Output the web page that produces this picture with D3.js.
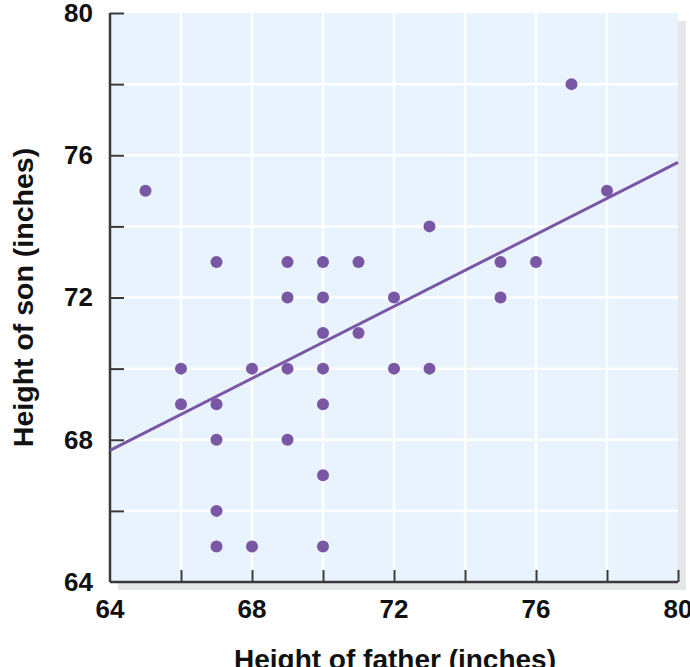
<!DOCTYPE html>
<html>
<head>
<meta charset="utf-8">
<script src="https://cdn.jsdelivr.net/npm/d3@7"></script>
<style>
  body { margin: 0; background: #fff; }
  text { font-family: "Liberation Sans", Arial, sans-serif; font-weight: bold; fill: #111; }
</style>
</head>
<body>
<div class="chart-wrapper"></div>
<script>
// father / son heights (inches)
const fatherHeights = [65, 66, 66, 67, 67, 67, 67, 67, 68, 68, 69, 69, 69, 69, 70, 70, 70, 70, 70, 70, 70, 71, 71, 72, 72, 73, 73, 75, 75, 76, 77, 78]
const sonHeights    = [75, 70, 69, 73, 69, 68, 66, 65, 70, 65, 73, 72, 70, 68, 73, 72, 71, 70, 69, 67, 65, 73, 71, 72, 70, 74, 70, 73, 72, 73, 78, 75]

// fitted line end points
const fitX = [64, 80]
const fitY = [67.7, 75.8]

const tickValues = [64, 66, 68, 70, 72, 74, 76, 78, 80]
const labelValues = [64, 68, 72, 76, 80]

const width = 690, height = 667
const margin = {left: 110, top: 13, right: 12, bottom: 85}
const purple = '#7a57a4'

let svg = d3.select('.chart-wrapper').append('svg')
    .attr('width', width)
    .attr('height', height)

let x = d3.scaleLinear().domain([64, 80]).range([margin.left, width - margin.right])
let y = d3.scaleLinear().domain([64, 80]).range([height - margin.bottom, margin.top])

const x0 = x(64), x1 = x(80), y0 = y(64), y1 = y(80)

// drop shadow
svg.append('rect')
    .attr('x', x0 + 8).attr('y', y1 + 8)
    .attr('width', x1 - x0).attr('height', y0 - y1)
    .attr('fill', '#e4e6e8')

// plot background
svg.append('rect')
    .attr('x', x0).attr('y', y1)
    .attr('width', x1 - x0).attr('height', y0 - y1)
    .attr('fill', '#e9f3fd')

// grid
let grid = svg.append('g').attr('class', 'grid')
grid.selectAll('.vgrid')
    .data(tickValues.filter(d => d > 64 && d < 80))
    .enter().append('line')
    .attr('x1', d => x(d)).attr('x2', d => x(d))
    .attr('y1', y1).attr('y2', y0)
    .attr('stroke', '#fff').attr('stroke-width', 2.5)
grid.selectAll('.hgrid')
    .data(tickValues.filter(d => d > 64 && d < 80))
    .enter().append('line')
    .attr('x1', x0).attr('x2', x1)
    .attr('y1', d => y(d)).attr('y2', d => y(d))
    .attr('stroke', '#fff').attr('stroke-width', 2.5)

// axes (ticks point inward)
let xAxis = d3.axisBottom(x).tickValues(tickValues).tickSize(-12).tickFormat('')
let yAxis = d3.axisLeft(y).tickValues(tickValues).tickSize(-14).tickFormat('')

let gx = svg.append('g').attr('transform', `translate(0,${y0})`).call(xAxis)
let gy = svg.append('g').attr('transform', `translate(${x0},0)`).call(yAxis)
gx.select('.domain').attr('d', `M${x0},0H${x1}`)
gy.select('.domain').attr('d', `M0,${y1}V${y0}`)
svg.selectAll('.domain').attr('stroke', '#3a3a3a').attr('stroke-width', 2.5)
svg.selectAll('.tick line').attr('stroke', '#3a3a3a').attr('stroke-width', 2)
// hide tick at the corner so the axes meet cleanly
gx.selectAll('.tick').filter(d => d === 64).remove()
gy.selectAll('.tick').filter(d => d === 64).remove()

// tick labels
svg.append('g').selectAll('text')
    .data(labelValues)
    .enter().append('text')
    .attr('x', d => x(d))
    .attr('y', y0 + 36)
    .attr('text-anchor', 'middle')
    .style('font-size', '26px')
    .text(d => d)

svg.append('g').selectAll('text')
    .data(labelValues)
    .enter().append('text')
    .attr('x', x0 - 17)
    .attr('y', d => y(d))
    .attr('dy', '0.34em')
    .attr('text-anchor', 'end')
    .style('font-size', '26px')
    .text(d => d)

// fitted line
let line = d3.line().x(d => x(d[0])).y(d => y(d[1]))
svg.append('path')
    .datum(d3.zip(fitX, fitY))
    .attr('d', line)
    .attr('fill', 'none')
    .attr('stroke', purple)
    .attr('stroke-width', 3)

// points
svg.append('g').selectAll('circle')
    .data(d3.zip(fatherHeights, sonHeights))
    .enter().append('circle')
    .attr('cx', d => x(d[0]))
    .attr('cy', d => y(d[1]))
    .attr('r', 6)
    .attr('fill', purple)

// axis titles
svg.append('text')
    .attr('transform', `translate(33,${(y0 + y1) / 2}) rotate(-90)`)
    .attr('text-anchor', 'middle')
    .style('font-size', '28.5px')
    .text('Height of son (inches)')

svg.append('text')
    .attr('x', 395)
    .attr('y', 669)
    .attr('text-anchor', 'middle')
    .style('font-size', '28px')
    .text('Height of father (inches)')
</script>
</body>
</html>
